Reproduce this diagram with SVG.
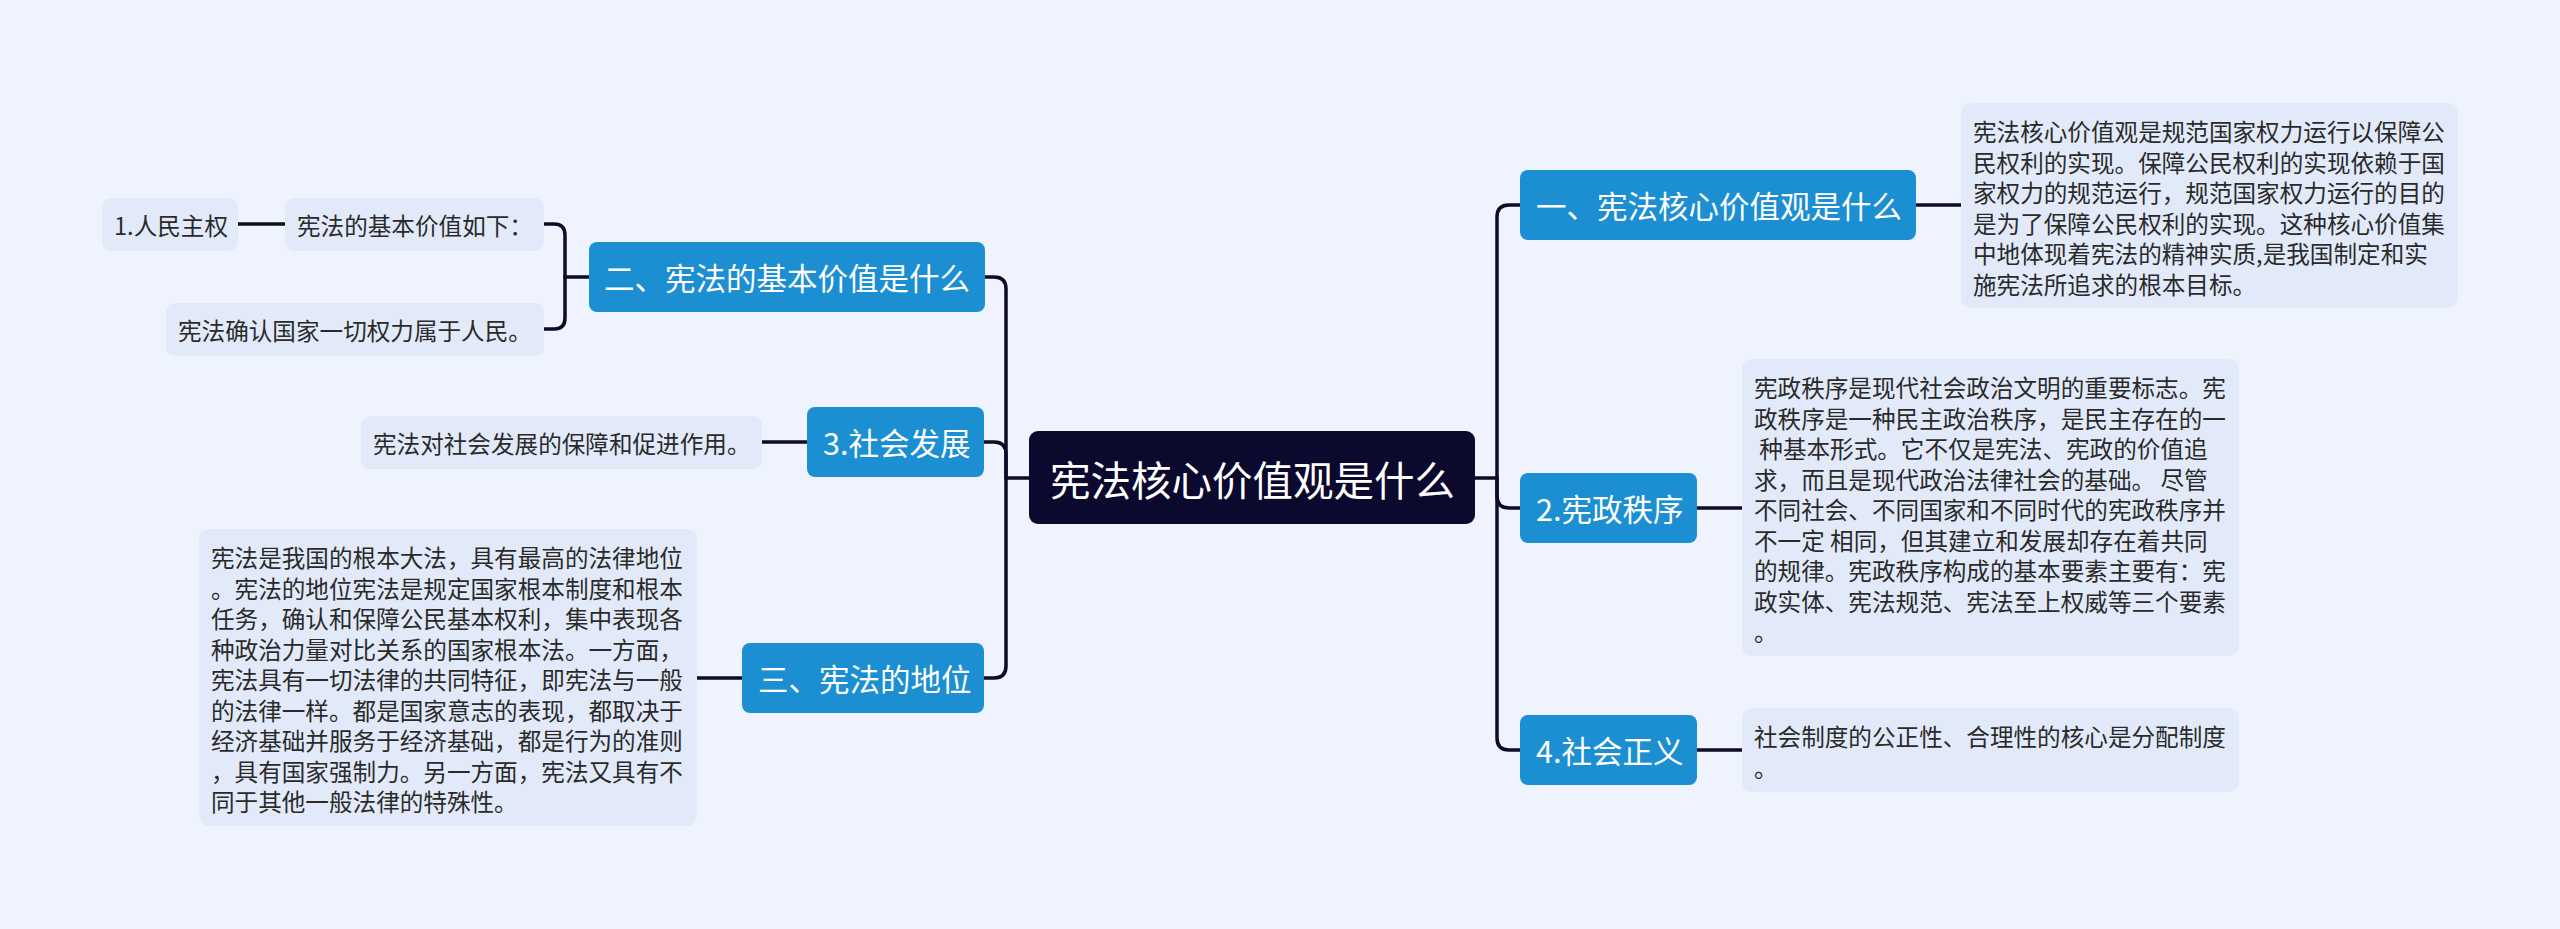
<svg xmlns="http://www.w3.org/2000/svg" width="2560" height="929" viewBox="0 0 2560 929">
<style>
.bg{fill:#eef3fd}
.conn{fill:none;stroke:#0d0c26;stroke-width:3.5;stroke-linecap:round;stroke-linejoin:round}
.root rect{fill:#0b0a2e}
.root text{fill:#ffffff;font-size:40.5px}
.main rect{fill:#1c8fd2}
.main text{fill:#ffffff;font-size:30.5px}
.leaf rect{fill:#e2eafa}
.leaf text{fill:#2a2a2a;font-size:23.6px}
text{font-family:"Noto Sans CJK SC","Noto Sans",sans-serif;dominant-baseline:central}
</style>
<rect class="bg" x="0" y="0" width="2560" height="929"/>
<g id="connectors">
<path class="conn" d="M1475,478 H1497"/>
<path class="conn" d="M1497,478 V217 Q1497,205 1509,205 H1520"/>
<path class="conn" d="M1497,478 V496 Q1497,508 1509,508 H1520"/>
<path class="conn" d="M1497,478 V738 Q1497,750 1509,750 H1520"/>
<path class="conn" d="M1916,205 H1961"/>
<path class="conn" d="M1697,508 H1742"/>
<path class="conn" d="M1697,750 H1742"/>
<path class="conn" d="M1029,478 H1006"/>
<path class="conn" d="M1006,478 V289 Q1006,277 994,277 H985"/>
<path class="conn" d="M1006,478 V454 Q1006,442 994,442 H984"/>
<path class="conn" d="M1006,478 V666 Q1006,678 994,678 H984"/>
<path class="conn" d="M589,277 H565"/>
<path class="conn" d="M565,277 V235 Q565,224 554,224 H544"/>
<path class="conn" d="M565,277 V318 Q565,329 554,329 H544"/>
<path class="conn" d="M285,224 H238"/>
<path class="conn" d="M807,442 H762"/>
<path class="conn" d="M742,678 H697"/>
</g>
<g id="root" class="root">
<rect x="1029" y="431" width="446" height="93" rx="9"/>
<text x="1050" y="478">宪法核心价值观是什么</text>
</g>
<g id="n1" class="main">
<rect x="1520" y="170" width="396" height="70" rx="8"/>
<text x="1536" y="205">一、宪法核心价值观是什么</text>
</g>
<g id="n1t" class="leaf">
<rect x="1961" y="103" width="497" height="205" rx="10"/>
<text x="1973" y="131"><tspan x="1973" y="131">宪法核心价值观是规范国家权力运行以保障公</tspan><tspan x="1973" y="161.5">民权利的实现。保障公民权利的实现依赖于国</tspan><tspan x="1973" y="192">家权力的规范运行，规范国家权力运行的目的</tspan><tspan x="1973" y="222.5">是为了保障公民权利的实现。这种核心价值集</tspan><tspan x="1973" y="253">中地体现着宪法的精神实质,是我国制定和实</tspan><tspan x="1973" y="283.5">施宪法所追求的根本目标。</tspan></text>
</g>
<g id="n2" class="main">
<rect x="1520" y="473" width="177" height="70" rx="8"/>
<text x="1536" y="508">2.宪政秩序</text>
</g>
<g id="n2t" class="leaf">
<rect x="1742" y="359" width="497" height="297" rx="10"/>
<text x="1754" y="387"><tspan x="1754" y="387">宪政秩序是现代社会政治文明的重要标志。宪</tspan><tspan x="1754" y="417.5">政秩序是一种民主政治秩序，是民主存在的一</tspan><tspan x="1754" y="448" xml:space="preserve"> 种基本形式。它不仅是宪法、宪政的价值追</tspan><tspan x="1754" y="478.5" xml:space="preserve">求，而且是现代政治法律社会的基础。 尽管</tspan><tspan x="1754" y="509">不同社会、不同国家和不同时代的宪政秩序并</tspan><tspan x="1754" y="539.5" xml:space="preserve">不一定 相同，但其建立和发展却存在着共同</tspan><tspan x="1754" y="570">的规律。宪政秩序构成的基本要素主要有：宪</tspan><tspan x="1754" y="600.5">政实体、宪法规范、宪法至上权威等三个要素</tspan><tspan x="1754" y="631">。</tspan></text>
</g>
<g id="n4" class="main">
<rect x="1520" y="715" width="177" height="70" rx="8"/>
<text x="1536" y="750">4.社会正义</text>
</g>
<g id="n4t" class="leaf">
<rect x="1742" y="708" width="497" height="84" rx="10"/>
<text x="1754" y="736"><tspan x="1754" y="736">社会制度的公正性、合理性的核心是分配制度</tspan><tspan x="1754" y="766.5">。</tspan></text>
</g>
<g id="n5" class="main">
<rect x="589" y="242" width="396" height="70" rx="8"/>
<text x="604" y="277">二、宪法的基本价值是什么</text>
</g>
<g id="n5a" class="leaf">
<rect x="285" y="198" width="259" height="53" rx="9"/>
<text x="297" y="224.5">宪法的基本价值如下：</text>
</g>
<g id="n5a1" class="leaf">
<rect x="102" y="198" width="136" height="53" rx="9"/>
<text x="114" y="224.5">1.人民主权</text>
</g>
<g id="n5b" class="leaf">
<rect x="166" y="303" width="378" height="53" rx="9"/>
<text x="178" y="329.5">宪法确认国家一切权力属于人民。</text>
</g>
<g id="n6" class="main">
<rect x="807" y="407" width="177" height="70" rx="8"/>
<text x="823" y="442">3.社会发展</text>
</g>
<g id="n6t" class="leaf">
<rect x="361" y="416" width="401" height="53" rx="9"/>
<text x="373" y="442.5">宪法对社会发展的保障和促进作用。</text>
</g>
<g id="n7" class="main">
<rect x="742" y="643" width="242" height="70" rx="8"/>
<text x="758" y="678">三、宪法的地位</text>
</g>
<g id="n7t" class="leaf">
<rect x="199" y="529" width="498" height="297" rx="10"/>
<text x="211" y="557"><tspan x="211" y="557">宪法是我国的根本大法，具有最高的法律地位</tspan><tspan x="211" y="587.5">。宪法的地位宪法是规定国家根本制度和根本</tspan><tspan x="211" y="618">任务，确认和保障公民基本权利，集中表现各</tspan><tspan x="211" y="648.5">种政治力量对比关系的国家根本法。一方面，</tspan><tspan x="211" y="679">宪法具有一切法律的共同特征，即宪法与一般</tspan><tspan x="211" y="709.5">的法律一样。都是国家意志的表现，都取决于</tspan><tspan x="211" y="740">经济基础并服务于经济基础，都是行为的准则</tspan><tspan x="211" y="770.5">，具有国家强制力。另一方面，宪法又具有不</tspan><tspan x="211" y="801">同于其他一般法律的特殊性。</tspan></text>
</g>
</svg>
